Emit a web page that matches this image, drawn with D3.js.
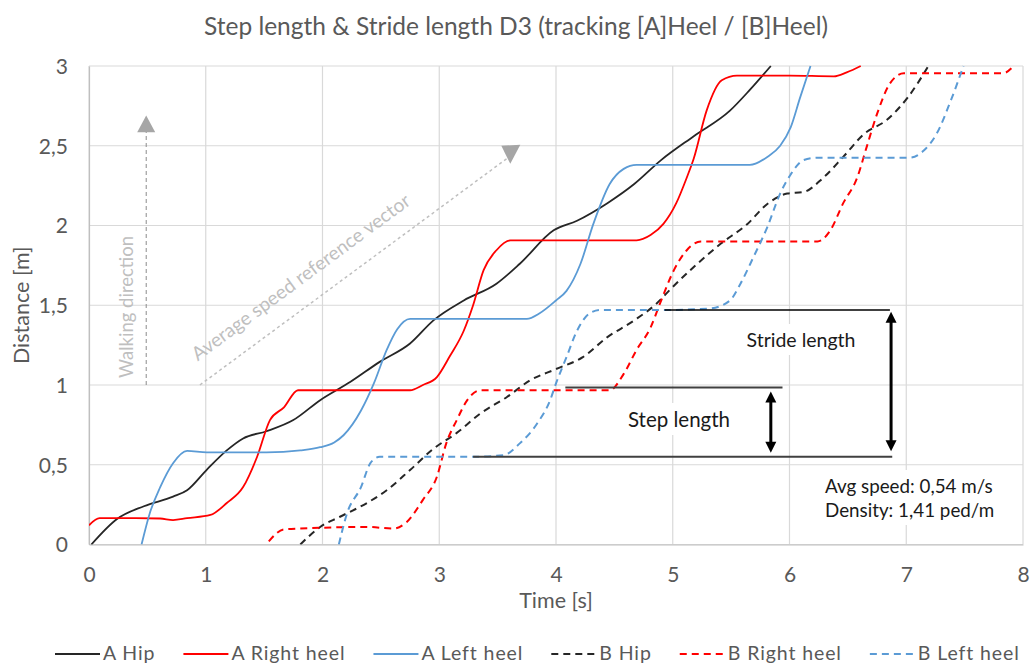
<!DOCTYPE html>
<html>
<head>
<meta charset="utf-8">
<script src="https://cdn.jsdelivr.net/npm/d3@7"></script>
<style>
  html, body { margin: 0; padding: 0; background: #fff; }
  svg { display: block; font-family: Lato, "Open Sans", sans-serif; }
</style>
</head>
<body>
<svg id="chart" width="1032" height="664"></svg>
<script>
// Time [s] / distance [m] samples for each tracked point
const aHip = [[0.02,0],[0.24,0.16],[0.47,0.24],[0.72,0.30],[0.84,0.34],[1.01,0.47],[1.18,0.59],[1.32,0.665],[1.52,0.71],[1.75,0.78],[1.98,0.905],[2.24,1.02],[2.49,1.145],[2.75,1.26],[2.95,1.405],[3.21,1.53],[3.49,1.635],[3.69,1.76],[3.98,1.97],[4.18,2.03],[4.44,2.14],[4.67,2.26],[4.90,2.41],[5.18,2.56],[5.49,2.72],[5.66,2.85],[5.84,3.0]];
const aRightHeel = [[0,0.12],[0.09,0.165],[0.4,0.165],[0.61,0.163],[0.72,0.153],[0.84,0.165],[1.04,0.185],[1.18,0.26],[1.32,0.36],[1.44,0.55],[1.55,0.78],[1.67,0.86],[1.79,0.967],[2.3,0.967],[2.75,0.967],[2.86,1.0],[2.98,1.05],[3.09,1.18],[3.21,1.34],[3.29,1.5],[3.38,1.72],[3.49,1.845],[3.61,1.907],[4.2,1.907],[4.69,1.907],[4.81,1.94],[4.92,2.01],[5.03,2.14],[5.12,2.3],[5.18,2.42],[5.29,2.72],[5.42,2.91],[5.55,2.94],[6.0,2.94],[6.38,2.935],[6.49,2.96],[6.61,3.0]];
const aLeftHeel = [[0.45,0],[0.52,0.195],[0.61,0.36],[0.72,0.51],[0.84,0.587],[1.01,0.577],[1.52,0.577],[1.81,0.59],[1.98,0.61],[2.1,0.64],[2.18,0.685],[2.33,0.84],[2.44,1.01],[2.55,1.22],[2.64,1.35],[2.75,1.415],[3.3,1.415],[3.75,1.415],[3.86,1.45],[4.0,1.53],[4.09,1.59],[4.21,1.76],[4.32,2.01],[4.46,2.26],[4.58,2.355],[4.69,2.38],[5.2,2.38],[5.66,2.38],[5.81,2.43],[5.92,2.5],[6.01,2.615],[6.09,2.8],[6.18,3.0]];
const bHip = [[1.81,0],[1.98,0.11],[2.15,0.174],[2.38,0.26],[2.55,0.34],[2.75,0.467],[2.95,0.6],[3.15,0.7],[3.35,0.82],[3.58,0.925],[3.78,1.03],[4.0,1.1],[4.23,1.175],[4.44,1.3],[4.67,1.405],[4.86,1.51],[4.98,1.6],[5.18,1.74],[5.41,1.885],[5.64,2.01],[5.81,2.135],[5.98,2.2],[6.12,2.21],[6.29,2.3],[6.46,2.43],[6.64,2.575],[6.83,2.66],[7.01,2.8],[7.19,3.0]];
const bRightHeel = [[1.54,0.02],[1.67,0.095],[1.81,0.1],[2.38,0.11],[2.61,0.1],[2.72,0.14],[2.86,0.28],[2.98,0.425],[3.06,0.634],[3.15,0.78],[3.24,0.905],[3.35,0.967],[3.9,0.967],[4.46,0.967],[4.58,1.07],[4.69,1.22],[4.81,1.36],[4.89,1.51],[5.01,1.72],[5.12,1.845],[5.24,1.9],[5.7,1.9],[6.24,1.9],[6.35,1.97],[6.46,2.14],[6.58,2.3],[6.66,2.49],[6.75,2.7],[6.86,2.89],[6.98,2.955],[7.4,2.955],[7.83,2.955],[7.92,3.0]];
const bLeftHeel = [[2.14,0],[2.21,0.195],[2.33,0.36],[2.41,0.51],[2.49,0.55],[2.9,0.55],[3.29,0.55],[3.55,0.56],[3.69,0.634],[3.84,0.76],[3.95,0.905],[4.0,1.01],[4.09,1.175],[4.18,1.34],[4.29,1.45],[4.38,1.47],[4.9,1.47],[5.32,1.48],[5.49,1.53],[5.58,1.635],[5.69,1.8],[5.81,1.99],[5.92,2.2],[6.01,2.32],[6.12,2.41],[6.24,2.425],[6.6,2.425],[7.03,2.425],[7.15,2.47],[7.26,2.575],[7.38,2.78],[7.49,3.0]];

const seriesNames = ["A Hip", "A Right heel", "A Left heel", "B Hip", "B Right heel", "B Left heel"];
const seriesData = [aHip, aRightHeel, aLeftHeel, bHip, bRightHeel, bLeftHeel];
const xTicks = [0, 1, 2, 3, 4, 5, 6, 7, 8];
const yTicks = [0, 0.5, 1, 1.5, 2, 2.5, 3];

const titleText = "Step length & Stride length D3 (tracking [A]Heel / [B]Heel)";
const xTitle = "Time [s]";
const yTitle = "Distance [m]";
const avgSpeed = 0.54;      // m/s
const density = 1.41;       // ped/m
const strideLevels = [0.55, 1.47];  // heel positions bounding one stride
const stepLevels = [0.55, 0.985];   // heel positions bounding one step

const colors = ["#262626", "#ff0000", "#5b9bd5", "#262626", "#ff0000", "#5b9bd5"];
const dashed = [false, false, false, true, true, true];

const locale = d3.formatLocale({ decimal: ",", thousands: ".", grouping: [3], currency: ["", " €"] });
const fmt = locale.format("~g");

const W = 1032, H = 664;
const m = { left: 89, right: 9, top: 66, bottom: 119.5 };
const svg = d3.select("#chart");

const x = d3.scaleLinear().domain([0, 8]).range([m.left, W - m.right]);
const y = d3.scaleLinear().domain([0, 3]).range([H - m.bottom, m.top]);

// title
svg.append("text").attr("x", 516).attr("y", 35).attr("text-anchor", "middle")
  .attr("font-size", 24.5).attr("fill", "#595959").text(titleText);

// gridlines
const grid = svg.append("g");
grid.selectAll(".gx").data(xTicks).join("line")
  .attr("x1", d => x(d)).attr("x2", d => x(d)).attr("y1", y(0)).attr("y2", y(3))
  .attr("stroke", "#d9d9d9").attr("stroke-width", 1.2);
grid.selectAll(".gy").data(yTicks).join("line")
  .attr("x1", x(0)).attr("x2", x(8)).attr("y1", d => y(d)).attr("y2", d => y(d))
  .attr("stroke", "#d9d9d9").attr("stroke-width", 1.2);

// axes
const xAxis = svg.append("g").attr("transform", `translate(0,${y(0)})`)
  .call(d3.axisBottom(x).tickValues(xTicks).tickFormat(fmt).tickSize(0).tickPadding(23));
const yAxis = svg.append("g").attr("transform", `translate(${x(0)},0)`)
  .call(d3.axisLeft(y).tickValues(yTicks).tickFormat(fmt).tickSize(0).tickPadding(21));
[xAxis, yAxis].forEach(a => {
  a.select(".domain").attr("stroke", "#bfbfbf").attr("stroke-width", 1.2);
  a.selectAll("text").attr("font-size", 21).attr("fill", "#595959").attr("font-family", "Lato, sans-serif");
});
yAxis.selectAll(".tick text").attr("dy", "0.35em");

svg.append("text").attr("x", x(4)).attr("y", 608).attr("text-anchor", "middle")
  .attr("font-size", 21.5).attr("fill", "#595959").text(xTitle);
svg.append("text").attr("transform", `translate(29,${(y(0) + y(3)) / 2}) rotate(-90)`)
  .attr("text-anchor", "middle").attr("font-size", 21.5).attr("fill", "#595959").text(yTitle);

// white backing boxes behind annotation texts
const boxes = svg.append("g");

// series
svg.append("clipPath").attr("id", "plotclip").append("rect")
  .attr("x", x(0)).attr("y", y(3) - 1).attr("width", x(8) - x(0)).attr("height", y(0) - y(3) + 1);
const line = d3.line().x(d => x(d[0])).y(d => y(d[1])).curve(d3.curveMonotoneX);
const seriesG = svg.append("g").attr("clip-path", "url(#plotclip)");
seriesG.selectAll("path").data(seriesData).join("path")
  .attr("d", line).attr("fill", "none")
  .attr("stroke", (d, i) => colors[i])
  .attr("stroke-width", (d, i) => dashed[i] ? 2 : 1.8)
  .attr("stroke-dasharray", (d, i) => dashed[i] ? "7,5" : null)
  .attr("stroke-linejoin", "round");

// walking direction arrow
const ann = svg.append("g");
const walkT = 0.49;
ann.append("line").attr("x1", x(walkT)).attr("x2", x(walkT)).attr("y1", y(1)).attr("y2", y(2.6))
  .attr("stroke", "#8c8c8c").attr("stroke-width", 1).attr("stroke-dasharray", "4,3");
ann.append("path")
  .attr("d", `M${x(walkT)},${y(2.69)} L${x(walkT) + 9},${y(2.585)} L${x(walkT) - 9},${y(2.585)} Z`)
  .attr("fill", "#a6a6a6");
ann.append("text").attr("transform", `translate(${x(walkT) - 13},${y(1) - 78}) rotate(-90)`)
  .attr("text-anchor", "middle").attr("font-size", 18.5).attr("fill", "#bfbfbf").text("Walking direction");

// average speed reference vector
const v0 = [0.95, 1.0], v1 = [3.6, 1.0 + avgSpeed * (3.6 - 0.95)];
ann.append("line").attr("x1", x(v0[0])).attr("y1", y(v0[1])).attr("x2", x(v1[0])).attr("y2", y(v1[1]))
  .attr("stroke", "#bfbfbf").attr("stroke-width", 1.5).attr("stroke-dasharray", "3,3");
const ex = x(v1[0]), ey = y(v1[1]);
ann.append("path").attr("d", `M${ex - 8},${ey - 11} L${ex + 11},${ey - 12} L${ex + 1},${ey + 7} Z`).attr("fill", "#a6a6a6");
const ang = Math.atan2(y(v1[1]) - y(v0[1]), x(v1[0]) - x(v0[0])) * 180 / Math.PI;
ann.append("text")
  .attr("transform", `translate(${x(2.02) - 20},${y(1.58) - 10}) rotate(${ang})`)
  .attr("text-anchor", "middle").attr("font-size", 19.2).attr("fill", "#bfbfbf")
  .text("Average speed reference vector");

// step & stride markers
ann.append("line").attr("x1", x(4.08)).attr("x2", x(5.94)).attr("y1", y(stepLevels[1])).attr("y2", y(stepLevels[1]))
  .attr("stroke", "#404040").attr("stroke-width", 2);
ann.append("line").attr("x1", x(3.29)).attr("x2", x(6.88)).attr("y1", y(stepLevels[0])).attr("y2", y(stepLevels[0]))
  .attr("stroke", "#404040").attr("stroke-width", 2);
ann.append("line").attr("x1", x(4.93)).attr("x2", x(6.86)).attr("y1", y(strideLevels[1])).attr("y2", y(strideLevels[1]))
  .attr("stroke", "#000").attr("stroke-width", 1.5);

function doubleArrow(t, d0, d1) {
  const xa = x(t), ya = y(d1), yb = y(d0);
  ann.append("line").attr("x1", xa).attr("x2", xa).attr("y1", ya + 8).attr("y2", yb - 8)
    .attr("stroke", "#000").attr("stroke-width", 3);
  ann.append("path").attr("d", `M${xa},${ya} L${xa + 5.5},${ya + 11} L${xa - 5.5},${ya + 11} Z`).attr("fill", "#000");
  ann.append("path").attr("d", `M${xa},${yb} L${xa + 5.5},${yb - 11} L${xa - 5.5},${yb - 11} Z`).attr("fill", "#000");
}
doubleArrow(5.84, stepLevels[0] + 0.025, stepLevels[1] - 0.025);
doubleArrow(6.87, strideLevels[0] + 0.035, strideLevels[1] - 0.01);

function label(lines, xPos, yPos, anchor, lh, size) {
  const t = ann.append("text").attr("font-size", size).attr("fill", "#1a1a1a").attr("text-anchor", anchor);
  lines.forEach((s, i) => t.append("tspan").attr("x", xPos).attr("y", yPos + i * lh).text(s));
  const bb = t.node().getBBox();
  boxes.append("rect").attr("x", bb.x - 6).attr("y", bb.y - 4).attr("width", bb.width + 12).attr("height", bb.height + 8)
    .attr("fill", "#fff");
}
label(["Stride length"], 801, 347, "middle", 0, 19.5);
label(["Step length"], 679, 427, "middle", 0, 20.5);
label(["Avg speed: " + locale.format(".2f")(avgSpeed) + " m/s", "Density: " + locale.format(".2f")(density) + " ped/m"], 825, 493, "start", 24, 18.8);

// legend
const leg = svg.append("g");
let lx = 55;
seriesNames.forEach((name, i) => {
  const ly = 654;
  leg.append("line").attr("x1", lx).attr("x2", lx + 45).attr("y1", ly).attr("y2", ly)
    .attr("stroke", colors[i]).attr("stroke-width", 2)
    .attr("stroke-dasharray", dashed[i] ? "7,5" : null);
  const t = leg.append("text").attr("x", lx + 48).attr("y", ly + 6).attr("font-size", 19.5)
    .attr("letter-spacing", 0.9).attr("fill", "#595959").text(name);
  lx += 48 + t.node().getComputedTextLength() + 28;
});
</script>
</body>
</html>
